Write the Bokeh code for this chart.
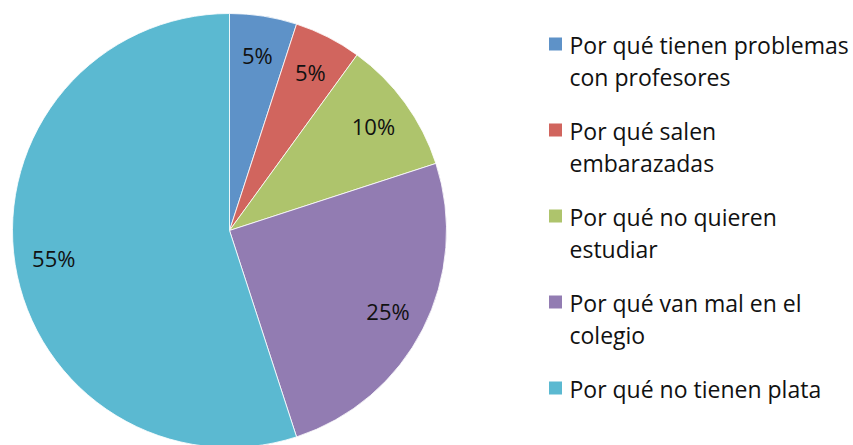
import numpy as np
from bokeh.plotting import figure
from bokeh.models import Range1d
from bokeh.core.properties import value
from bokeh.embed import file_html
from bokeh.resources import INLINE

categories = [
    "Por qué tienen problemas\ncon profesores",
    "Por qué salen\nembarazadas",
    "Por qué no quieren\nestudiar",
    "Por qué van mal en el\ncolegio",
    "Por qué no tienen plata",
]
percentages = [5, 5, 10, 25, 55]
colors = ["#5E92C8", "#D1655E", "#AEC46C", "#927CB2", "#5BB9D1"]

W, H = 853, 445
p = figure(width=W, height=H, output_backend="svg", toolbar_location=None,
           x_range=Range1d(0, W), y_range=Range1d(0, H), min_border=0)
p.axis.visible = False
p.grid.visible = False
p.outline_line_color = None
p.background_fill_color = "white"
p.border_fill_color = "white"

cx, cy, r = 229, 215, 217
vals = np.array(percentages, dtype=float)
frac = vals / vals.sum()
ends = np.pi / 2 - 2 * np.pi * np.cumsum(frac)
starts = np.concatenate([[np.pi / 2], ends[:-1]])
mids = (starts + ends) / 2

for s, e, c in zip(starts, ends, colors):
    p.wedge(x=cx, y=cy, radius=r, start_angle=e, end_angle=s,
            fill_color=c, line_color="white", line_width=0.8)

lr = 0.82 * r
p.text(x=list(cx + lr * np.cos(mids)), y=list(cy + lr * np.sin(mids)),
       text=[f"{v:g}%" for v in percentages],
       text_font=value("Open Sans"), text_font_size="22px", text_color="#111111",
       text_align="center", text_baseline="middle")

# legend
lx, ly0, dy = 555, 401.5, 86
for i, (lab, c) in enumerate(zip(categories, colors)):
    yc = ly0 - i * dy
    p.rect(x=lx, y=yc, width=13, height=13, fill_color=c, line_color=None)
    for j, line in enumerate(lab.split("\n")):
        p.text(x=[lx + 14], y=[yc - 0.5 - 32 * j], text=[line],
               text_font=value("Open Sans"), text_font_size="23px",
               text_color="#111111", text_align="left", text_baseline="middle")

open("out.html", "w").write(file_html(p, INLINE))
